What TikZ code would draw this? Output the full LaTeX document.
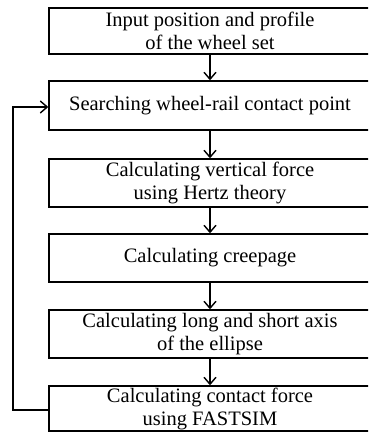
\documentclass[tikz,border=0pt]{standalone}
\usepackage{fontspec}
\setmainfont{Liberation Serif}
\usetikzlibrary{arrows.meta}
\begin{document}
\begin{tikzpicture}[x=1pt,y=-1pt,
  stepbox/.style={draw,line width=1.4pt,rectangle,minimum width=322pt,inner sep=0pt,
    align=center,font=\fontsize{20.5}{23}\selectfont},
  conn/.style={line width=1.4pt,-{Straight Barb[length=7pt,width=12pt,line width=1.4pt]}}]
\useasboundingbox (0,0) rectangle (368,434);
\clip (0,0) rectangle (368,434);
\node[stepbox,minimum height=46pt] (b1) at (210,31) {Input position and profile\\of the wheel set};
\node[stepbox,minimum height=49pt] (b2) at (210,105.5) {Searching\ wheel-rail\ contact point};
\node[stepbox,minimum height=48pt] (b3) at (210,183) {Calculating\ vertical\ force\\using Hertz theory};
\node[stepbox,minimum height=48pt] (b4) at (210,258) {Calculating\ creepage};
\node[stepbox,minimum height=48pt] (b5) at (210,334) {Calculating\ long and short axis\\of the ellipse};
\node[stepbox,minimum height=45pt] (b6) at (210,408.5) {Calculating\ contact force\\using FASTSIM};
\draw[conn] (b1) -- (b2);
\draw[conn] (b2) -- (b3);
\draw[conn] (b3) -- (b4);
\draw[conn] (b4) -- (b5);
\draw[conn] (b5) -- (b6);
\coordinate (c1) at (13,410);
\coordinate (c2) at (13,107);
\draw[conn] ([yshift=-1.5pt]b6.west) -- (c1) -- (c2) -- (b2.west |- c2);
\end{tikzpicture}
\end{document}
